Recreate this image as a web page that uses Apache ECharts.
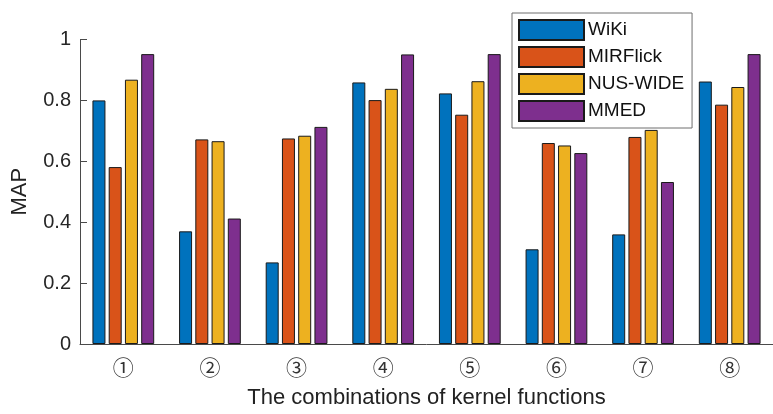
<!DOCTYPE html>
<html>
<head>
<meta charset="utf-8">
<script src="https://cdn.jsdelivr.net/npm/echarts@6/dist/echarts.min.js"></script>
<style>
  html, body { margin: 0; padding: 0; background: #fff; }
  #chart { width: 773px; height: 414px; }
</style>
</head>
<body>
<div id="chart"></div>
<script>
// Kernel-function combinations on the x axis
const categories = ['①', '②', '③', '④', '⑤', '⑥', '⑦', '⑧'];

// MAP per dataset
const wiki      = [0.800, 0.370, 0.268, 0.859, 0.823, 0.311, 0.360, 0.862];
const mirflick  = [0.581, 0.672, 0.675, 0.801, 0.753, 0.660, 0.680, 0.786];
const nusWide   = [0.868, 0.666, 0.684, 0.838, 0.863, 0.652, 0.703, 0.844];
const mmed      = [0.952, 0.412, 0.713, 0.951, 0.952, 0.627, 0.532, 0.952];

const yTicks = [0, 0.2, 0.4, 0.6, 0.8, 1];

const seriesDefs = [
  { name: 'WiKi', data: wiki, color: '#0072BD' },
  { name: 'MIRFlick', data: mirflick, color: '#D95319' },
  { name: 'NUS-WIDE', data: nusWide, color: '#EDB120' },
  { name: 'MMED', data: mmed, color: '#7E2F8E' }
];

const font = 'Liberation Sans, Arial, Helvetica, sans-serif';
const axisColor = '#4a4a4a';

const chart = echarts.init(document.getElementById('chart'), null, { renderer: 'canvas' });

chart.setOption({
  animation: false,
  backgroundColor: '#ffffff',
  grid: { left: 80, top: 39.5, width: 698, height: 309, containLabel: false },
  legend: {
    orient: 'vertical',
    left: 512,
    top: 13,
    padding: [6, 8, 6, 6],
    itemWidth: 65,
    itemHeight: 20,
    itemGap: 5,
    icon: 'rect',
    backgroundColor: '#ffffff',
    borderColor: '#6e6e6e',
    borderWidth: 1,
    textStyle: { fontFamily: font, fontSize: 19, lineHeight: 20, color: '#111', padding: [0, 0, 0, -1] },
    data: seriesDefs.map(s => s.name)
  },
  xAxis: {
    type: 'category',
    data: categories,
    name: 'The combinations of kernel functions',
    nameLocation: 'middle',
    nameGap: 43,
    nameTextStyle: { fontFamily: font, fontSize: 22, color: '#222' },
    axisLine: { lineStyle: { color: axisColor, width: 1 } },
    axisTick: { inside: true, alignWithLabel: true, length: 5, lineStyle: { color: axisColor } },
    axisLabel: { margin: 13, fontFamily: 'Noto Sans CJK SC, serif', fontSize: 21, color: '#333' }
  },
  yAxis: {
    type: 'value',
    min: 0,
    max: 1,
    interval: 0.2,
    name: 'MAP',
    nameLocation: 'middle',
    nameGap: 49,
    nameRotate: 90,
    nameTextStyle: { fontFamily: font, fontSize: 22, color: '#222' },
    axisLine: { show: true, lineStyle: { color: axisColor, width: 1 } },
    axisTick: { show: true, inside: true, length: 7, lineStyle: { color: axisColor } },
    axisLabel: {
      margin: 9,
      fontFamily: font,
      fontSize: 20,
      color: '#262626',
      formatter: v => (yTicks.some(t => Math.abs(t - v) < 1e-9) ? String(+v.toFixed(1)) : '')
    },
    splitLine: { show: false }
  },
  series: seriesDefs.map(s => ({
    name: s.name,
    type: 'bar',
    data: s.data,
    barWidth: 13,
    barGap: '25%',
    itemStyle: { color: s.color, borderColor: '#1a1a1a', borderWidth: 1 }
  }))
});
</script>
</body>
</html>
